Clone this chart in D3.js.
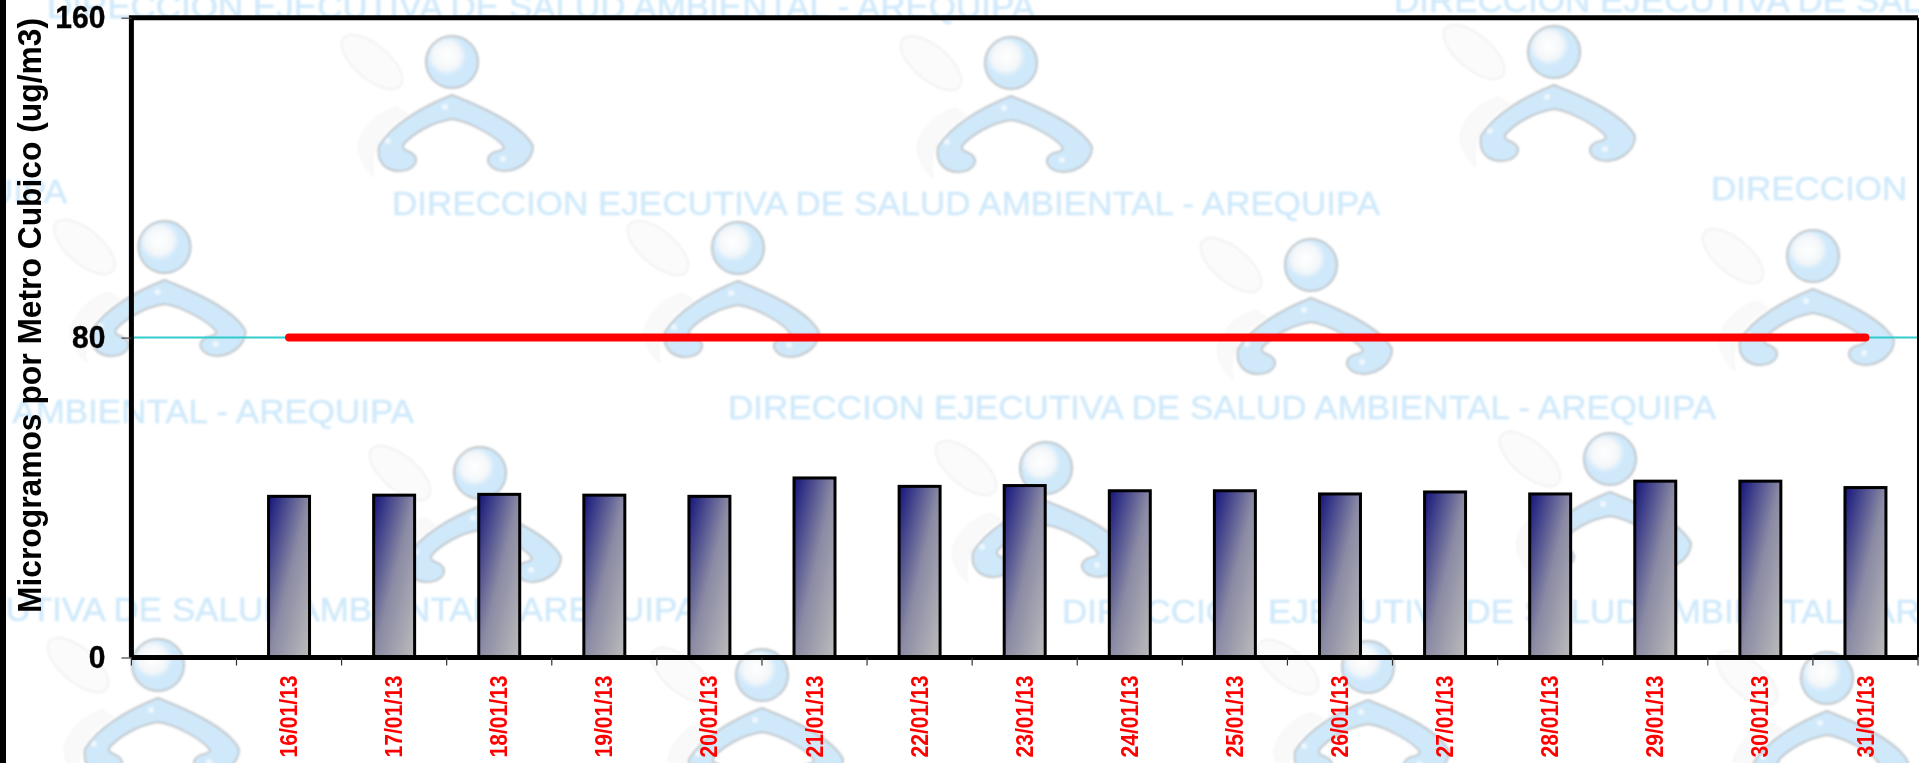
<!DOCTYPE html>
<html>
  <head>
    <meta http-equiv="Content-Type" content="text/html;charset=utf-8">
    <title>Microgramos por Metro Cubico</title>
    <script type="text/javascript" src="https://d3js.org/d3.v7.min.js"></script>
    <style>
      html, body { margin: 0; padding: 0; background: #fff; overflow: hidden; }
      text { font-family: "Liberation Sans", Arial, sans-serif; }
      .axis path, .axis line { fill: none; }
      .axis.y text { font-size: 32px; font-weight: bold; fill: #000; stroke: #000; stroke-width: 0.4px; }
      .axis.x text { font-size: 23px; font-weight: bold; fill: #f00; }
      .mark text { font-size: 32.5px; fill: #cfe9fb; stroke: #cfe9fb; stroke-width: 0.4px; }
    </style>
  </head>
  <body>
  <script type="text/javascript">

// first category has no label and no bar
var dates = ["", "16/01/13", "17/01/13", "18/01/13", "19/01/13", "20/01/13", "21/01/13", "22/01/13",
  "23/01/13", "24/01/13", "25/01/13", "26/01/13", "27/01/13", "28/01/13", "29/01/13", "30/01/13", "31/01/13"];
var values = [null, 40.3, 40.6, 40.8, 40.6, 40.3, 44.9, 42.8, 43.0, 41.7, 41.7, 40.9, 41.4, 40.9, 44.1, 44.1, 42.5];
var limit = 80;
var yTicks = [0, 80, 160];
var yTitle = "Microgramos por Metro Cubico (ug/m3)";

// background watermark, tiled in the source image
var markText = "DIRECCION EJECUTIVA DE SALUD AMBIENTAL - AREQUIPA";
var markTextPlaces = [[47, 18], [1394, 12], [-921, 203], [392, 215], [1711, 200],
  [-574, 423], [728, 419], [-290, 621], [1062, 623]];
var markLogoPlaces = [[452, 62], [1011, 63], [1554, 52], [164.5, 247], [738, 248], [1311, 265], [1813, 256],
  [480, 473], [1046, 468], [1610, 459], [158, 665], [762, 675], [1368, 667], [1827, 678]];

var W = 1919, H = 763;
var margin = {left: 131.4, right: 1, top: 17.7, bottom: 105.5};
var width = W - margin.left - margin.right;
var height = H - margin.top - margin.bottom;

var svg = d3.select("body").append("svg").attr("width", W).attr("height", H).style("display", "block");
var defs = svg.append("defs");

var barFill = defs.append("linearGradient").attr("id", "barFill")
  .attr("x1", 0).attr("y1", 0).attr("x2", 1).attr("y2", 1);
barFill.append("stop").attr("offset", 0).attr("stop-color", "#14147c");
barFill.append("stop").attr("offset", 0.5).attr("stop-color", "#8a8aa4");
barFill.append("stop").attr("offset", 1).attr("stop-color", "#bcbcbc");

var ballFill = defs.append("radialGradient").attr("id", "ballFill")
  .attr("cx", 0.4).attr("cy", 0.38).attr("r", 0.62);
ballFill.append("stop").attr("offset", 0).attr("stop-color", "#fff");
ballFill.append("stop").attr("offset", 0.42).attr("stop-color", "#f4f7f9");
ballFill.append("stop").attr("offset", 0.62).attr("stop-color", "#cfe9fb");
ballFill.append("stop").attr("offset", 1).attr("stop-color", "#cfe9fb");

defs.append("filter").attr("id", "soft").append("feGaussianBlur").attr("stdDeviation", 0.8);

// one logo, drawn around the centre of its ball
var logo = defs.append("g").attr("id", "logo");
logo.append("ellipse").attr("cx", -80).attr("cy", 0).attr("rx", 37).attr("ry", 17)
  .attr("transform", "rotate(40 -80 0)").attr("fill", "#fbfbfb").attr("stroke", "#f2f2f2").attr("stroke-width", 2);
logo.append("path").attr("d", "M-55,45C-75,50 -92,68 -94,85C-92,100 -84,110 -78,115C-82,95 -78,70 -45,52Z")
  .attr("fill", "#f9f9f9").attr("stroke", "#f3f3f3");
logo.append("circle").attr("r", 26).attr("fill", "url(#ballFill)").attr("stroke", "#bfc4c8").attr("stroke-width", 2);
logo.append("path")
  .attr("d", "M0,33C-28,44 -60,62 -73,84C-76,100 -66,109 -53,109C-40,109 -32,100 -38,93C-42,88 -50,90 -49,83C-40,72 -20,60 0,57C20,60 46,76 52,85C52,90 42,88 38,93C32,100 40,109 53,109C68,108 81,98 81,84C70,62 28,44 0,33Z")
  .attr("fill", "#cfe9fb").attr("stroke", "#c2c7cb").attr("stroke-width", 2);
logo.append("circle").attr("cx", -64).attr("cy", 79).attr("r", 3).attr("fill", "#eef7fd");
logo.append("circle").attr("cx", -7).attr("cy", 45).attr("r", 3).attr("fill", "#eef7fd");
logo.append("circle").attr("cx", 51).attr("cy", 97).attr("r", 3).attr("fill", "#eef7fd");

var mark = svg.append("g").attr("class", "mark").attr("filter", "url(#soft)");
mark.selectAll("use").data(markLogoPlaces).enter().append("use")
  .attr("href", "#logo")
  .attr("x", function(d) { return d[0]; })
  .attr("y", function(d) { return d[1]; });
mark.selectAll("text").data(markTextPlaces).enter().append("text")
  .attr("x", function(d) { return d[0]; })
  .attr("y", function(d) { return d[1]; })
  .attr("textLength", 988)
  .attr("lengthAdjust", "spacingAndGlyphs")
  .text(markText);

// left edge of the source picture
svg.append("rect").attr("width", 6).attr("height", H).attr("fill", "#000");

var x = d3.scaleBand().domain(dates).range([0, width]).paddingInner(0.61).paddingOuter(0.305);
var y = d3.scaleLinear().domain([0, 160]).range([height, 0]);

var chartGroup = svg.append("g").attr("transform", "translate(" + margin.left + "," + margin.top + ")");

var center = function(d) { return x(d) + x.bandwidth() / 2; };

chartGroup.selectAll("rect.bar")
  .data(dates.filter(function(d, i) { return values[i] !== null; }))
  .enter().append("rect")
  .attr("class", "bar")
  .attr("x", function(d) { return x(d); })
  .attr("width", x.bandwidth())
  .attr("y", function(d) { return y(values[dates.indexOf(d)]); })
  .attr("height", function(d) { return height - y(values[dates.indexOf(d)]); })
  .attr("fill", "url(#barFill)")
  .attr("stroke", "#000")
  .attr("stroke-width", 3);

// thin teal limit across the plot, thick red over the dated range
chartGroup.append("line")
  .attr("x1", 0).attr("x2", width)
  .attr("y1", y(limit)).attr("y2", y(limit))
  .attr("stroke", "#33cccc").attr("stroke-width", 2);

var limitLine = d3.line()
  .x(function(d) { return center(d); })
  .y(function() { return y(limit); });
chartGroup.append("path")
  .attr("d", limitLine(dates.slice(1)))
  .attr("fill", "none").attr("stroke", "#f00").attr("stroke-width", 8).attr("stroke-linecap", "round");

// frame
chartGroup.append("path")
  .attr("d", "M" + width + ",0V" + height)
  .attr("stroke", "#000").attr("stroke-width", 2).attr("fill", "none");
chartGroup.append("path")
  .attr("d", "M0," + height + "V0H" + width)
  .attr("stroke", "#000").attr("stroke-width", 5).attr("fill", "none");
chartGroup.append("path")
  .attr("d", "M0," + height + "H" + width)
  .attr("stroke", "#000").attr("stroke-width", 5).attr("fill", "none");

var yAxis = d3.axisLeft(y).tickValues(yTicks).tickSize(10).tickPadding(16);
var yG = chartGroup.append("g").attr("class", "axis y").call(yAxis);
yG.select(".domain").remove();
yG.selectAll("line").attr("stroke", "#444").attr("stroke-width", 1.2);
// source digits are a little condensed
yG.selectAll("text")
  .attr("textLength", function(d) { return String(d).length * 16.7; })
  .attr("lengthAdjust", "spacingAndGlyphs");

var xAxis = d3.axisBottom(x).tickSize(0).tickPadding(0);
var xG = chartGroup.append("g").attr("class", "axis x")
  .attr("transform", "translate(0," + height + ")").call(xAxis);
xG.select(".domain").remove();
xG.selectAll("text")
  .attr("transform", "rotate(-90)")
  .attr("text-anchor", "end")
  .attr("x", -18)
  .attr("y", 0)
  .attr("dy", "0.35em")
  .attr("textLength", 82)
  .attr("lengthAdjust", "spacingAndGlyphs");

// ticks fall on the band edges, not on the labels
xG.selectAll("line.edge").data(d3.range(dates.length + 1)).enter().append("line")
  .attr("class", "edge")
  .attr("x1", function(i) { return i * x.step(); })
  .attr("x2", function(i) { return i * x.step(); })
  .attr("y1", 0).attr("y2", 8)
  .attr("stroke", "#333").attr("stroke-width", 1.2);

svg.append("text")
  .attr("transform", "translate(41,315.5) rotate(-90)")
  .attr("text-anchor", "middle")
  .attr("textLength", 595)
  .attr("lengthAdjust", "spacingAndGlyphs")
  .style("font-size", "34px")
  .style("font-weight", "bold")
  .text(yTitle);

  </script>
  </body>
</html>
